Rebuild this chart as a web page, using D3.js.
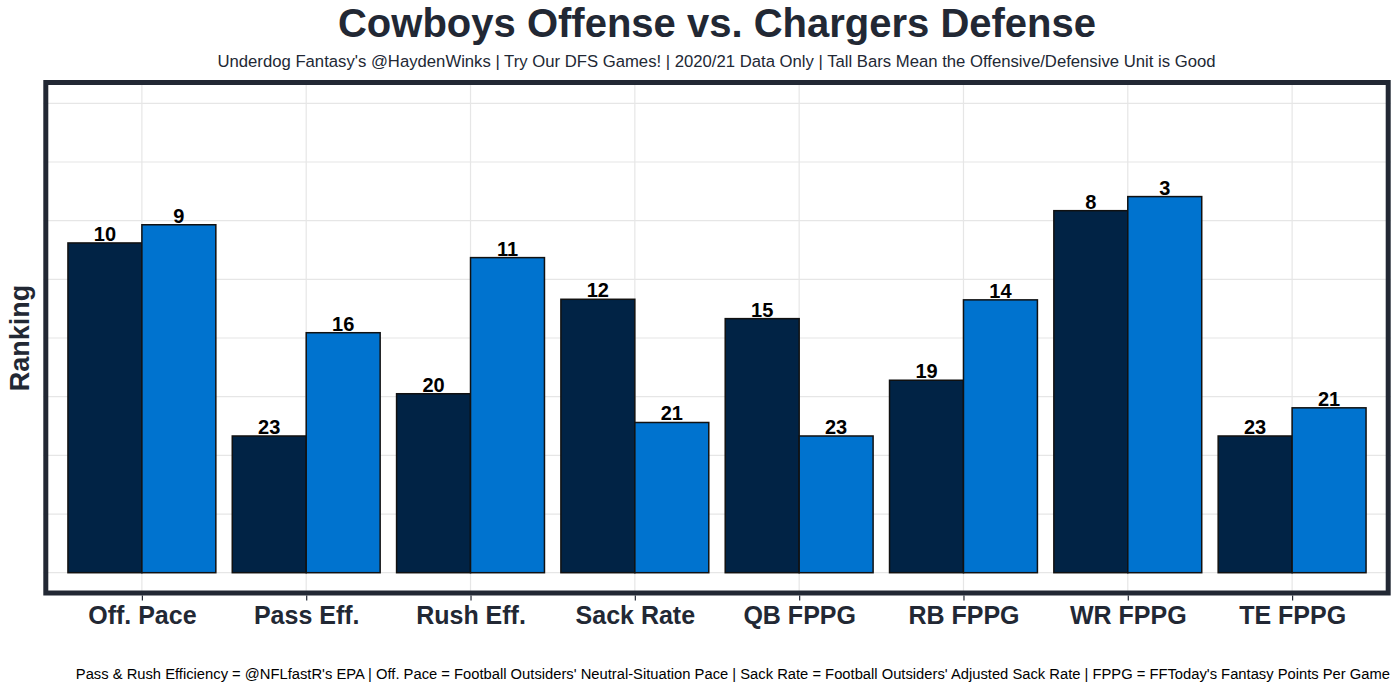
<!DOCTYPE html>
<html>
<head>
<meta charset="utf-8">
<script src="https://cdn.jsdelivr.net/npm/d3@7"></script>
<style>
  html, body { margin: 0; padding: 0; background: #ffffff; }
  svg { display: block; }
  text { font-family: "Liberation Sans", Arial, "Helvetica", sans-serif; }
</style>
</head>
<body>
<div id="chart"></div>
<script>
// ---- Data ----
const categories = ["Off. Pace", "Pass Eff.", "Rush Eff.", "Sack Rate", "QB FPPG", "RB FPPG", "WR FPPG", "TE FPPG"];
const offenseScore = [5.62, 2.33, 3.05, 4.66, 4.33, 3.28, 6.17, 2.33];   // Cowboys Offense bar heights
const defenseScore = [5.93, 4.09, 5.37, 2.56, 2.33, 4.65, 6.41, 2.81];   // Chargers Defense bar heights
const offenseRank  = [10, 23, 20, 12, 15, 19, 8, 23];
const defenseRank  = [9, 16, 11, 21, 23, 14, 3, 21];
const yTicks = [0, 1, 2, 3, 4, 5, 6, 7, 8];

const titleText = "Cowboys Offense vs. Chargers Defense";
const subtitleText = "Underdog Fantasy's @HaydenWinks | Try Our DFS Games! | 2020/21 Data Only | Tall Bars Mean the Offensive/Defensive Unit is Good";
const captionText = "Pass & Rush Efficiency = @NFLfastR's EPA | Off. Pace = Football Outsiders' Neutral-Situation Pace | Sack Rate = Football Outsiders' Adjusted Sack Rate | FPPG = FFToday's Fantasy Points Per Game";

// ---- Layout ----
const W = 1400, H = 689;
const panel = { left: 43.3, right: 1390.7, top: 80, bottom: 595.5 };
const ink = "#222834";
const darkBar = "#012345";
const lightBar = "#0073CF";

const svg = d3.select("#chart").append("svg").attr("width", W).attr("height", H);

const x = d3.scalePoint().domain(categories).range([panel.left, panel.right]).padding(0.6);
const step = x.step();
const barW = step * 0.45;

const y = d3.scaleLinear().domain([0, 8]).range([572.7, 103.3]);

// gridlines
const grid = svg.append("g");
grid.selectAll("line.h").data(yTicks).join("line")
  .attr("x1", panel.left).attr("x2", panel.right)
  .attr("y1", d => y(d)).attr("y2", d => y(d))
  .attr("stroke", "#e6e6e6").attr("stroke-width", 1.2);
grid.selectAll("line.v").data(categories).join("line")
  .attr("x1", d => x(d)).attr("x2", d => x(d))
  .attr("y1", panel.top).attr("y2", panel.bottom)
  .attr("stroke", "#e6e6e6").attr("stroke-width", 1.2);

// bars
const rows = categories.map((c, i) => ({ c, off: offenseScore[i], def: defenseScore[i], offR: offenseRank[i], defR: defenseRank[i] }));
const bars = svg.append("g");
bars.selectAll("rect.off").data(rows).join("rect")
  .attr("x", d => x(d.c) - barW).attr("width", barW)
  .attr("y", d => y(d.off)).attr("height", d => y(0) - y(d.off))
  .attr("fill", darkBar).attr("stroke", "#111111").attr("stroke-width", 1.5);
bars.selectAll("rect.def").data(rows).join("rect")
  .attr("x", d => x(d.c)).attr("width", barW)
  .attr("y", d => y(d.def)).attr("height", d => y(0) - y(d.def))
  .attr("fill", lightBar).attr("stroke", "#111111").attr("stroke-width", 1.5);

// value labels
const lab = svg.append("g").attr("font-weight", "bold").attr("font-size", 20).attr("fill", "#000").attr("text-anchor", "middle");
lab.selectAll("text.off").data(rows).join("text")
  .attr("x", d => x(d.c) - barW / 2).attr("y", d => y(d.off) - 2)
  .text(d => d.offR);
lab.selectAll("text.def").data(rows).join("text")
  .attr("x", d => x(d.c) + barW / 2).attr("y", d => y(d.def) - 2)
  .text(d => d.defR);

// panel border
const bw = 5;
svg.append("rect")
  .attr("x", panel.left + bw / 2).attr("y", panel.top + bw / 2)
  .attr("width", panel.right - panel.left - bw).attr("height", panel.bottom - panel.top - bw)
  .attr("fill", "none").attr("stroke", ink).attr("stroke-width", bw);

// x axis
const xAxis = d3.axisBottom(x).tickSize(5).tickPadding(6);
const gx = svg.append("g").attr("transform", `translate(0,${panel.bottom})`).call(xAxis);
gx.select(".domain").remove();
gx.selectAll(".tick line").attr("stroke", ink).attr("stroke-width", 1.2);
gx.selectAll(".tick text")
  .attr("font-family", "\"Liberation Sans\", Arial, sans-serif")
  .attr("font-size", 25).attr("font-weight", "bold").attr("fill", ink)
  .attr("dy", "0.71em");

// y axis title
svg.append("text")
  .attr("transform", "translate(29,338) rotate(-90)")
  .attr("text-anchor", "middle").attr("font-size", 27).attr("font-weight", "bold").attr("fill", ink)
  .text("Ranking");

// titles
svg.append("text").attr("x", 717).attr("y", 37).attr("text-anchor", "middle")
  .attr("font-size", 40).attr("font-weight", "bold").attr("fill", ink).text(titleText);
svg.append("text").attr("x", 716.5).attr("y", 67).attr("text-anchor", "middle")
  .attr("font-size", 16.7).attr("fill", ink).text(subtitleText);
svg.append("text").attr("x", 1390).attr("y", 679).attr("text-anchor", "end")
  .attr("font-size", 14.75).attr("fill", "#000").text(captionText);
</script>
</body>
</html>
